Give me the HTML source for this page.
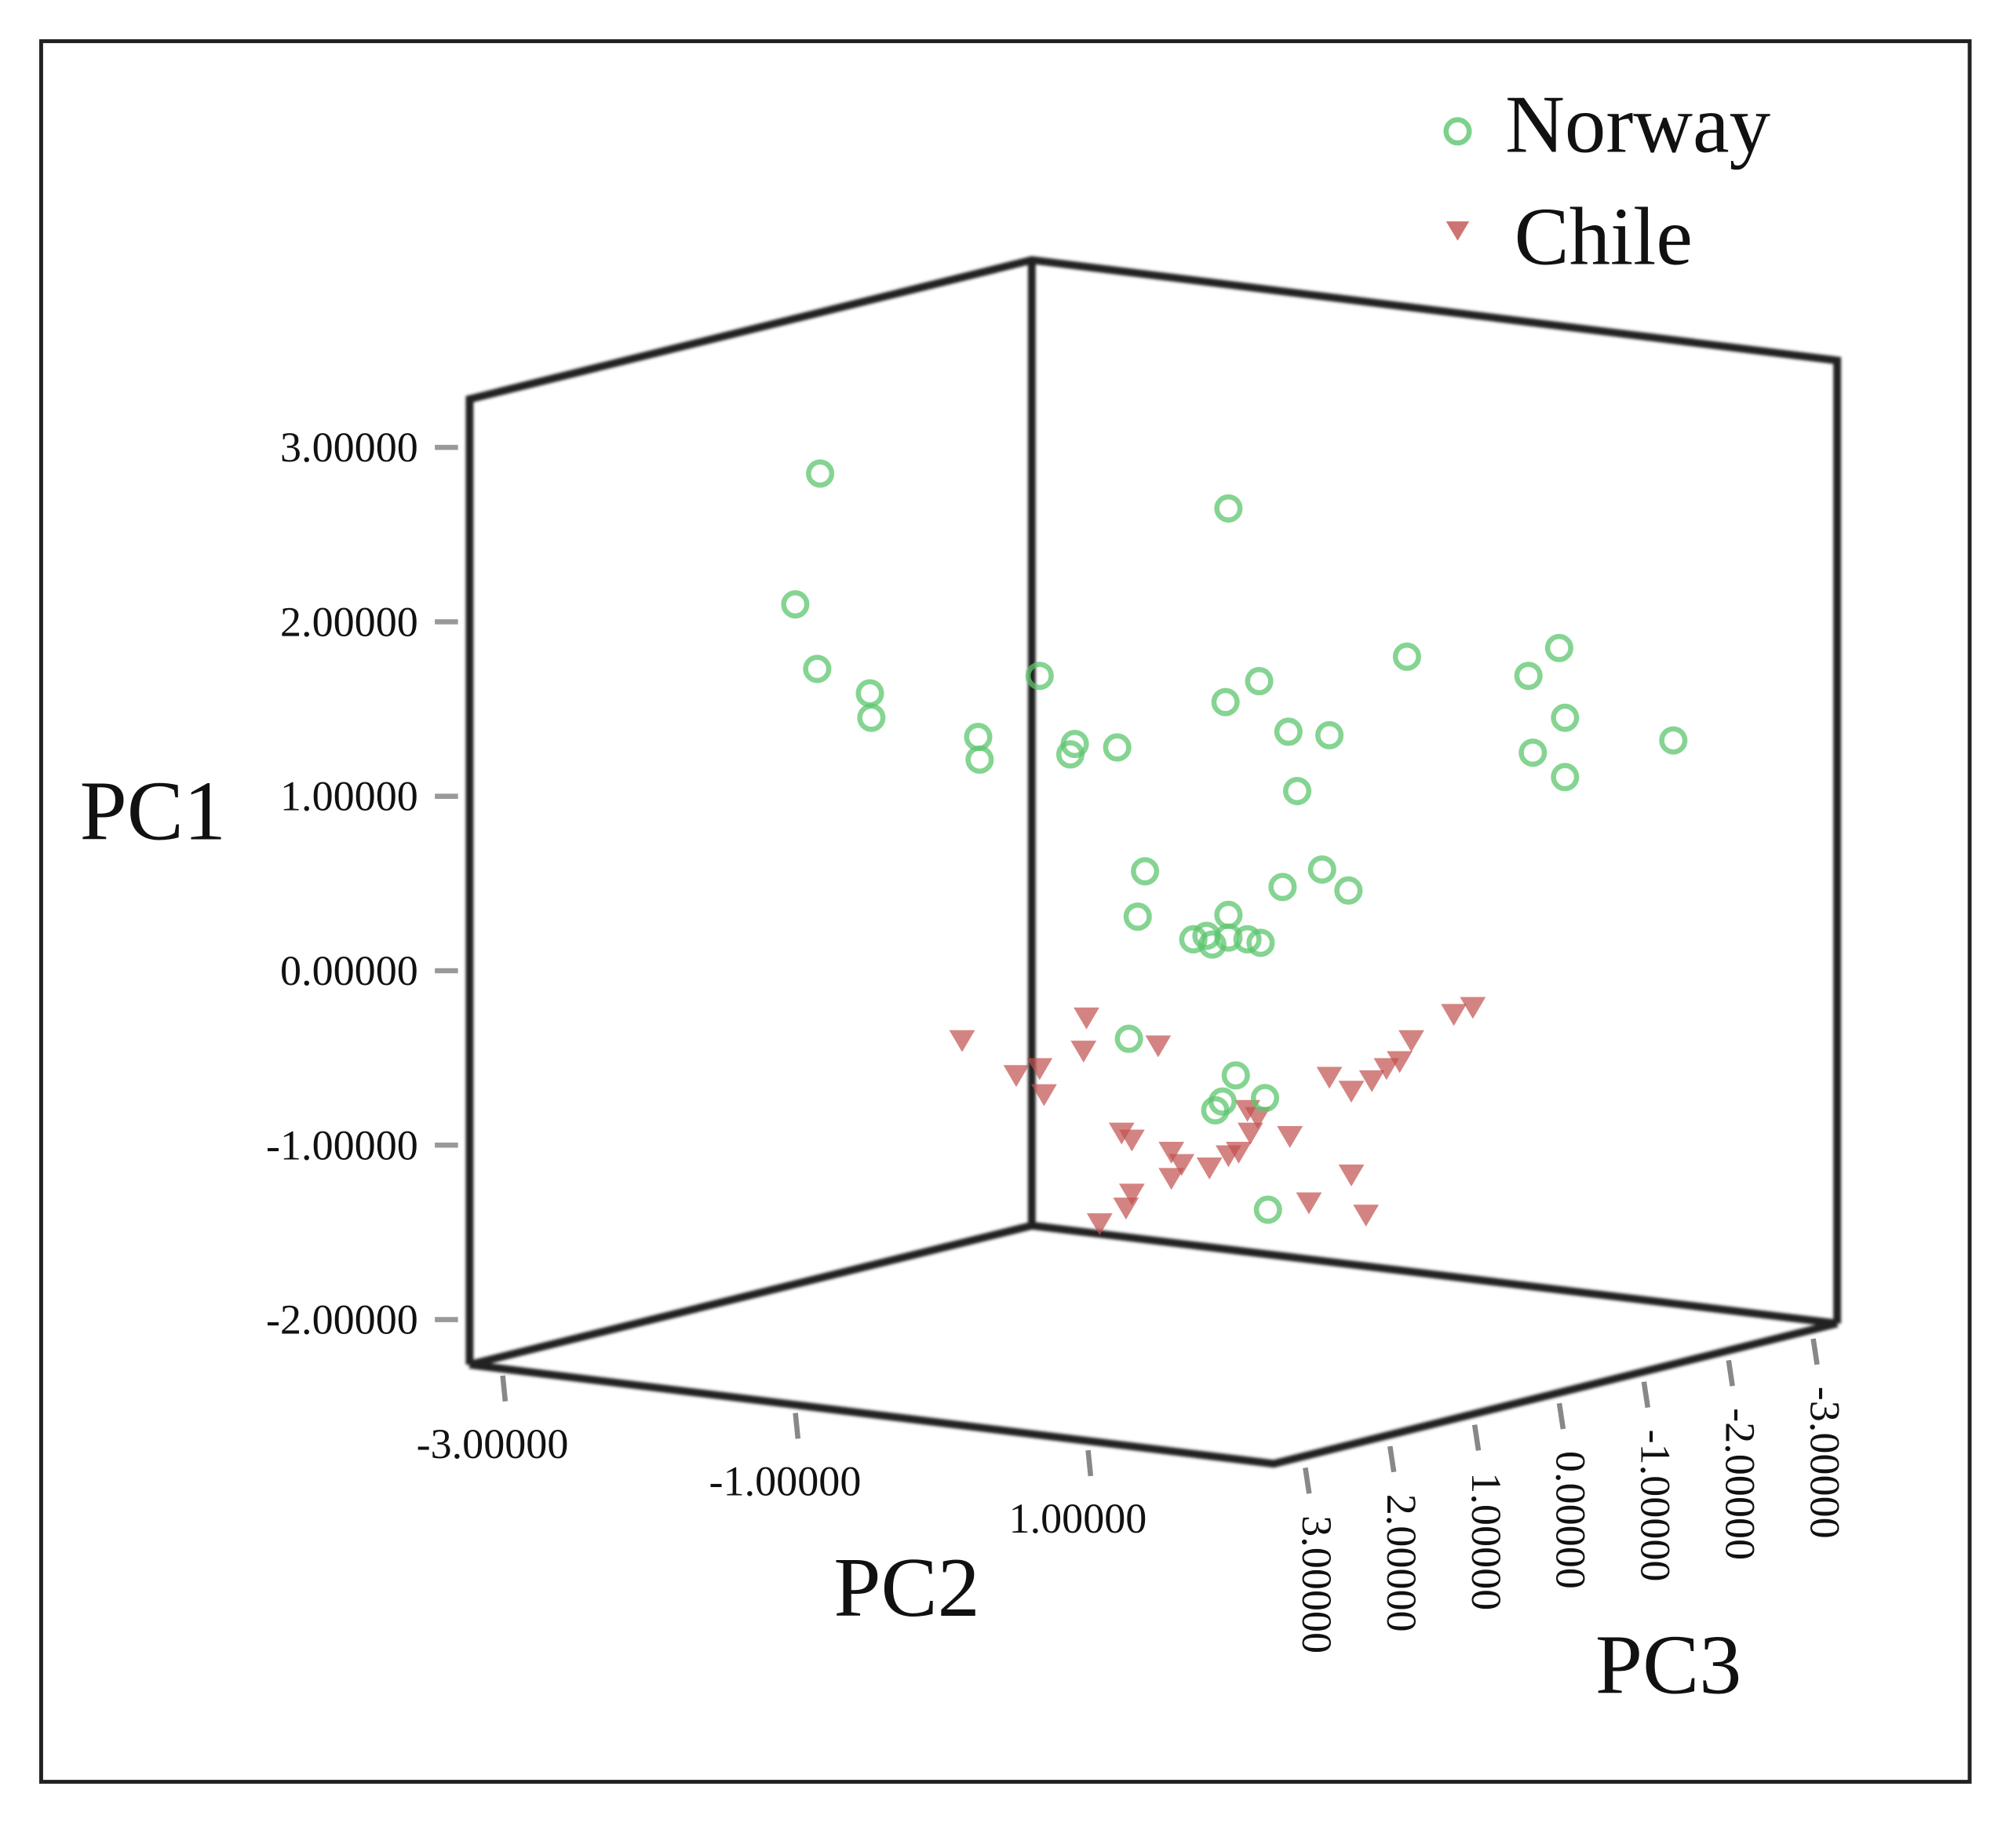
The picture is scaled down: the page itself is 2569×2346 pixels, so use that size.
<!DOCTYPE html>
<html><head><meta charset="utf-8"><style>
html,body{margin:0;padding:0;background:#fff}
svg{display:block}
text{font-family:"Liberation Serif",serif;fill:#111}
</style></head><body>
<svg id="chart" width="2569" height="2346" viewBox="0 0 1567 1430" preserveAspectRatio="none">
<defs><filter id="bl"><feGaussianBlur stdDeviation="1.2"/></filter></defs>
<rect x="32" y="32" width="1499" height="1352" fill="none" stroke="#222" stroke-width="3"/>
<g stroke="#222" stroke-width="6" fill="none" filter="url(#bl)">
<polyline points="365,1060 365,310 802,202 1428,280 1428,1028"/>
<line x1="802" y1="202" x2="802" y2="952"/>
<line x1="802" y1="952" x2="1428" y2="1028"/>
<line x1="802" y1="952" x2="365" y2="1060"/>
<polyline points="365,1060 990,1137 1428,1028"/>
</g>
<g id="pc1axis"></g>
<g id="pc2axis"></g>
<g id="pc3axis"></g>
<text x="62" y="652" font-size="66">PC1</text>
<text x="648" y="1255" font-size="66">PC2</text>
<text x="1240" y="1315" font-size="66">PC3</text>
<g>
<circle cx="1133" cy="102" r="9" fill="none" stroke="#5cc56e" stroke-width="4" opacity="0.8"/>
<text x="1170" y="118" font-size="64">Norway</text>
<polygon points="1124,172 1142,172 1133,187" fill="#c0504d" opacity="0.8"/>
<text x="1177" y="205" font-size="64">Chile</text>
</g>
<g id="marks"></g>
</svg>
<script>
const pc1Ticks=[3,2,1,0,-1,-2];
const pc1TickLabels=["3.00000","2.00000","1.00000","0.00000","-1.00000","-2.00000"];
const pc2Ticks=[-3,-1,1];
const pc2TickLabels=["-3.00000","-1.00000","1.00000"];
const pc3Ticks=[3,2,1,0,-1,-2,-3];
const pc3TickLabels=["3.00000","2.00000","1.00000","0.00000","-1.00000","-2.00000","-3.00000"];
const norwayPC2=[0.18,2.97,0.01,0.16,0.52,0.53,1.68,1.26,1.27,1.92,1.89,2.21,3.18,2.95,4.19,5.02,5.23,5.27,3.38,3.66,5.05,5.27,6.01,3.44,2.40,2.35,3.34,3.61,3.79,2.97,2.73,2.86,2.97,3.10,3.19,2.82,2.29,3.02,2.93,2.88,3.22,3.24];
const norwayPC1=[2.85,2.65,2.10,1.73,1.59,1.45,1.69,1.34,1.21,1.30,1.24,1.28,1.66,1.54,1.80,1.69,1.85,1.45,1.37,1.35,1.25,1.11,1.32,1.03,0.57,0.31,0.48,0.58,0.46,0.32,0.18,0.15,0.19,0.18,0.16,0.20,-0.39,-0.60,-0.75,-0.80,-0.73,-1.37];
const chilePC2=[1.15,2.00,1.98,2.49,1.52,1.68,1.71,2.24,2.31,2.58,2.65,2.58,2.84,2.97,3.04,3.10,3.17,3.12,3.39,2.31,2.27,2.09,3.66,3.81,3.95,4.05,4.14,4.22,4.51,4.64,3.81,3.52,3.91];
const chilePC1=[-0.40,-0.27,-0.46,-0.43,-0.60,-0.56,-0.71,-0.93,-0.97,-1.04,-1.11,-1.19,-1.13,-1.06,-1.04,-0.80,-0.84,-0.93,-0.95,-1.28,-1.36,-1.45,-0.61,-0.69,-0.63,-0.56,-0.52,-0.40,-0.25,-0.21,-1.17,-1.33,-1.40];
const NS="http://www.w3.org/2000/svg";
function yPC1(v){return 754-135.5*v;}
function xPC2(v){return 617+113.75*v;}
function pc2Axis(v){return [732+113.75*v,1094+14.5*v];}
function pc3Axis(v){return [1212-65.8*v,1092+16.7*v];}
function mk(tag,attrs,parent){const e=document.createElementNS(NS,tag);for(const k in attrs)e.setAttribute(k,attrs[k]);parent.appendChild(e);return e;}
const g1=document.getElementById('pc1axis');
pc1Ticks.forEach((t,i)=>{
 const y=yPC1(t);
 const l=mk('line',{x1:338,y1:y,x2:356,y2:y,stroke:'#999','stroke-width':4},g1);
 
 
 const tx=mk('text',{x:325,y:y+11,'font-size':33,'text-anchor':'end'},g1);
 tx.textContent=pc1TickLabels[i];
 
 
});
const g2=document.getElementById('pc2axis');
pc2Ticks.forEach((t,i)=>{
 const p=pc2Axis(t);
 const l=mk('line',{x1:p[0],y1:p[1]+18,x2:p[0]+2,y2:p[1]+38,stroke:'#888','stroke-width':4},g2);
 
 
 const tx=mk('text',{x:p[0]-8,y:p[1]+82,'font-size':33,'text-anchor':'middle'},g2);
 tx.textContent=pc2TickLabels[i];
 
 
});
const g3=document.getElementById('pc3axis');
pc3Ticks.forEach((t,i)=>{
 const p=pc3Axis(t);
 const l=mk('line',{x1:p[0],y1:p[1]-2,x2:p[0]+3,y2:p[1]+18,stroke:'#888','stroke-width':4},g3);
 
 
 const tx=mk('text',{x:0,y:0,'font-size':33,transform:'translate('+(p[0]-2)+','+(p[1]+35)+') rotate(90)'},g3);
 tx.textContent=pc3TickLabels[i];
 
 
});
const gm=document.getElementById('marks');
chilePC2.forEach((v,i)=>{
 const x=xPC2(v),y=yPC1(chilePC1[i]);
 const p=mk('polygon',{points:(x-10)+','+(y-8)+' '+(x+10)+','+(y-8)+' '+x+','+(y+9),fill:'#c0504d',opacity:0.7},gm);
 
 
});
norwayPC2.forEach((v,i)=>{
 const c=mk('circle',{cx:xPC2(v),cy:yPC1(norwayPC1[i]),r:9,fill:'none',stroke:'#5cc56e','stroke-width':4,opacity:0.75},gm);
 
 
});
</script>
</body></html>
